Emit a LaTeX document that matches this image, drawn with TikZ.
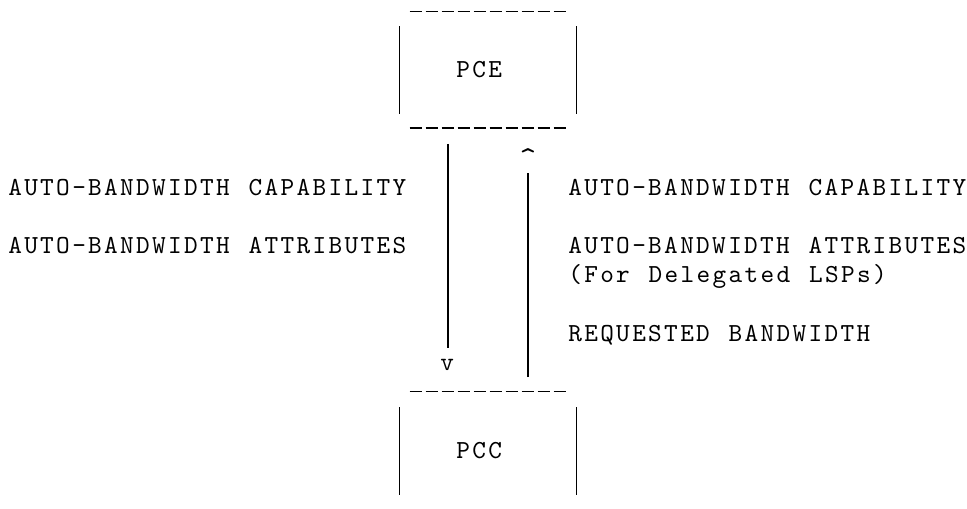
\documentclass[tikz,border=0pt]{standalone}
\usepackage{fontspec}
\usetikzlibrary{calc}
% Typewriter face, opened out to a fixed 12pt character cell
\newfontfamily\asciifont{lmmono10-regular}[Extension=.otf, LetterSpace=9.03, WordSpace=1.172]
\newfontfamily\tipfont{lmmono10-regular}[Extension=.otf]

\tikzset{
  asciitext/.style={font=\asciifont\fontsize{19.5pt}{19.5pt}\selectfont, inner sep=0pt, anchor=base west, text=black},
  tiptext/.style={font=\tipfont\fontsize{24pt}{24pt}\selectfont, inner sep=0pt, anchor=base, text=black},
  boxframe/.style={rectangle, draw=none, inner sep=0pt, minimum width=132pt},
  edge/.style={line width=1pt, black},
  dashedge/.style={line width=1pt, black, dash pattern=on 9pt off 3pt},
  link/.style={line width=1pt, black}
}

\begin{document}
\begin{tikzpicture}[x=0.75pt, y=-0.75pt]
  \useasboundingbox (0,0) rectangle (967,508);

  % the two boxes (frames only; labels set separately on the character grid)
  \node[boxframe, minimum height=87pt]   (pce) at (488,69.7)  {};
  \node[boxframe, minimum height=77.1pt] (pcc) at (488,443.1) {};

  \node[asciitext] (pcetext) at (456,77.8)  {PCE};
  \node[asciitext] (pcctext) at (456,458.7) {PCC};

  % PCE frame
  \draw[dashedge] ($(pce.north west)+(10,0)$) -- ($(pce.north east)+(-10,0)$);
  \draw[dashedge] ($(pce.south west)+(10,0)$) -- ($(pce.south east)+(-10,0)$);
  \draw[edge] ($(pce.north west)+(0,14.8)$) -- ($(pce.south west)+(0,-14.1)$);
  \draw[edge] ($(pce.north east)+(0,14.8)$) -- ($(pce.south east)+(0,-14.1)$);

  % PCC frame (open at the bottom)
  \draw[dashedge] ($(pcc.north west)+(10,0)$) -- ($(pcc.north east)+(-10,0)$);
  \draw[edge] ($(pcc.north west)+(0,15.7)$) -- (pcc.south west);
  \draw[edge] ($(pcc.north east)+(0,15.7)$) -- (pcc.south east);

  % arrow heads written as characters
  \node[asciitext] (downtip) at (440,370.8) {v};
  \node[tiptext]   (uptip)   at (528,168) {\textasciicircum};

  % PCE -> PCC and PCC -> PCE
  \draw[link] ($(pce.south)+(-40,16)$) -- ($(downtip.base west)+(8,-22.8)$);
  \draw[link] ($(pcc.north)+(40,-14.4)$) -- ($(uptip.base)+(0,5)$);

  % messages from PCE to PCC
  \node[asciitext] (lcap) at (8,195)   {AUTO-BANDWIDTH CAPABILITY};
  \node[asciitext] (latt) at (8,253.6) {AUTO-BANDWIDTH ATTRIBUTES};

  % messages from PCC to PCE
  \node[asciitext] (rcap) at (568,195)   {AUTO-BANDWIDTH CAPABILITY};
  \node[asciitext] (ratt) at (568,253.6) {AUTO-BANDWIDTH ATTRIBUTES};
  \node[asciitext] (rdel) at (568,282.9) {(For Delegated LSPs)};
  \node[asciitext] (rreq) at (568,341.5) {REQUESTED BANDWIDTH};
\end{tikzpicture}
\end{document}
